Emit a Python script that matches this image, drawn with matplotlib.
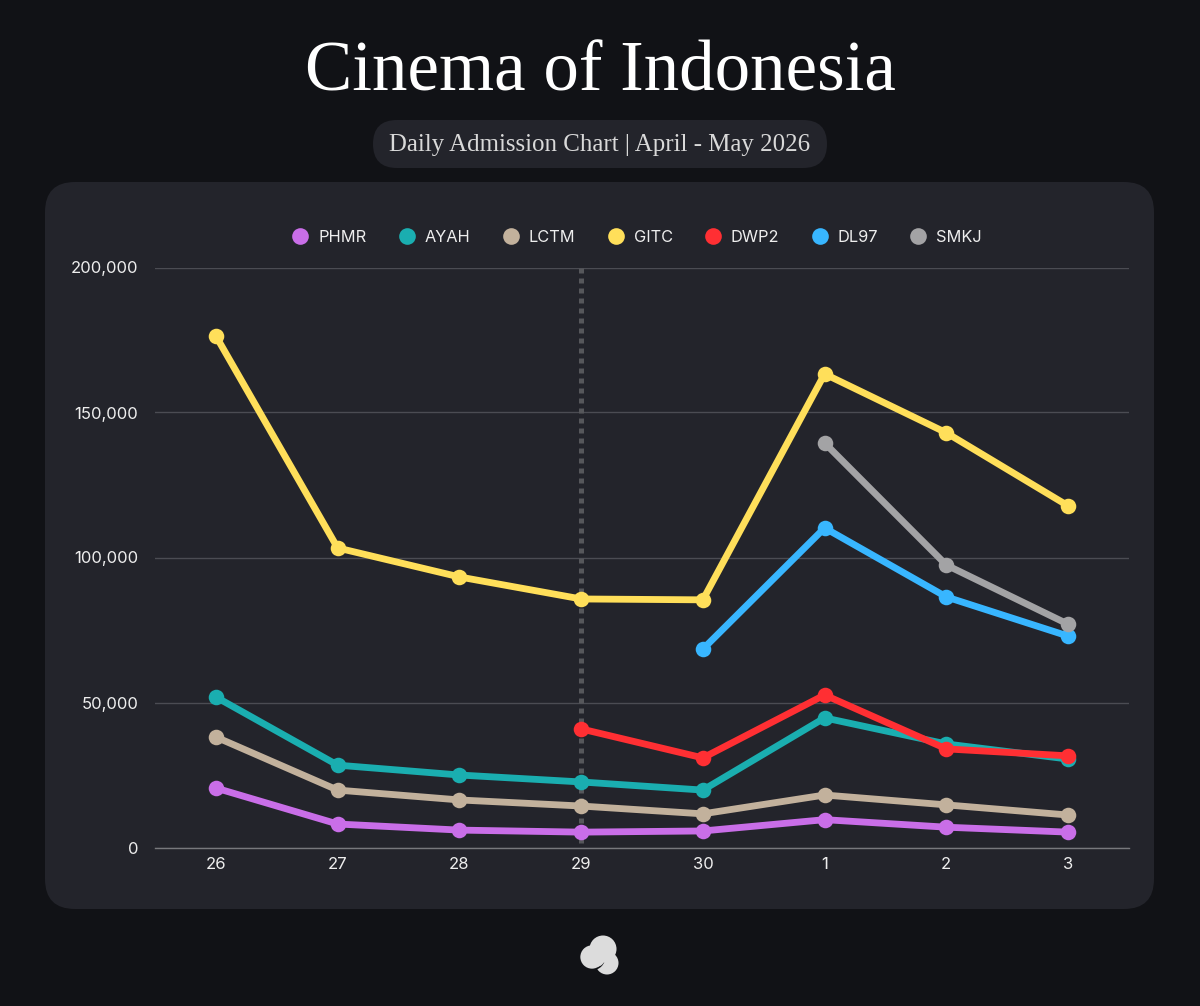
import matplotlib
matplotlib.use("Agg")
import matplotlib.pyplot as plt
from matplotlib.lines import Line2D
from matplotlib.patches import FancyBboxPatch, Circle

nan = float("nan")

days = ["26", "27", "28", "29", "30", "1", "2", "3"]
phmr = [20500, 8100, 6000, 5300, 5700, 9600, 7000, 5300]
ayah = [51900, 28400, 25000, 22600, 19800, 44700, 35700, 30500]
lctm = [38100, 19800, 16400, 14300, 11600, 18100, 14700, 11200]
gitc = [176400, 103300, 93300, 85700, 85400, 163300, 143000, 117800]
dwp2 = [nan, nan, nan, 40900, 30900, 52600, 34000, 31600]
dl97 = [nan, nan, nan, nan, 68400, 110200, 86400, 72900]
smkj = [nan, nan, nan, nan, nan, 139500, 97400, 77000]

names = ["PHMR", "AYAH", "LCTM", "GITC", "DWP2", "DL97", "SMKJ"]
series = [phmr, ayah, lctm, gitc, dwp2, dl97, smkj]
colors = ["#c96ee8", "#1aaeb0", "#c2b19c", "#ffdf5a", "#ff2f33", "#38b6ff", "#a3a3a5"]

yticks = [0, 50000, 100000, 150000, 200000]

BG = "#111216"
CARD = "#23242b"
W, H = 1200, 1006

plt.rcParams["font.family"] = ["Inter", "DejaVu Sans"]

fig = plt.figure(figsize=(W / 100, H / 100), dpi=100, facecolor=BG)

# backdrop in pixel coordinates: card, pill, logo
bg = fig.add_axes([0, 0, 1, 1], zorder=0)
bg.set_xlim(0, W)
bg.set_ylim(H, 0)
bg.axis("off")
bg.add_patch(FancyBboxPatch((45 + 30, 182 + 30), 1109 - 60, 727 - 60,
                            boxstyle="round,pad=30,rounding_size=30", fc=CARD, ec="none"))
bg.add_patch(FancyBboxPatch((373 + 24, 120 + 24), 454 - 48, 48 - 48,
                            boxstyle="round,pad=24,rounding_size=24", fc=CARD, ec="none"))
bg.add_patch(Circle((607, 963), 11.5, fc="#dcdcdc", ec="none"))
bg.add_patch(Circle((592, 957), 12.5, fc="#dcdcdc", ec=BG, lw=1.2))
bg.add_patch(Circle((603, 949), 13.5, fc="#dcdcdc", ec="none"))
bg.add_patch(Circle((596, 958), 9, fc="#dcdcdc", ec="none"))

bg.text(600, 73, "Cinema of Indonesia", color="white", fontsize=51,
        family="Liberation Serif", ha="center", va="center")
bg.text(600, 145, "Daily Admission Chart | April - May 2026", color="#d9d9d9", fontsize=17.9,
        family="Liberation Serif", ha="center", va="center")

# plot area
left, right, top, bottom = 155, 1129, 267.5, 847.5
ax = fig.add_axes([left / W, 1 - bottom / H, (right - left) / W, (bottom - top) / H], zorder=1)
ax.patch.set_alpha(0)
x = list(range(len(days)))

ax.set_xlim(-0.5, 7.5)
ax.set_ylim(0, 200000)
ax.set_xticks(x, days)
ax.set_yticks(yticks, [f"{v:,}" for v in yticks])
ax.tick_params(length=0, labelsize=12, labelcolor="#eeeeee")
ax.tick_params(axis="x", pad=7)
ax.tick_params(axis="y", pad=12)
ax.grid(axis="y", color="#4b4c53", lw=1)
ax.set_axisbelow(True)
for side in ["top", "right", "left"]:
    ax.spines[side].set_visible(False)
ax.spines["bottom"].set_color("#77787c")
ax.spines["bottom"].set_linewidth(1)

# dotted guide on the 29th
ax.axvline(3, ymin=0.007, ymax=1, color="#56575b", lw=3.6, dashes=(1.0, 1.0), zorder=2)

for vals, c, name in zip(series, colors, names):
    ax.plot(x, vals, color=c, lw=4.9, marker="o", ms=11.2, mec=c, mew=0, label=name, zorder=3,
            clip_on=False)

handles = [Line2D([], [], ls="", marker="o", ms=12, mfc=c, mec="none") for c in colors]
fig.legend(handles, names, loc="center", bbox_to_anchor=(633 / W, 1 - 237 / H), ncols=7,
           frameon=False, labelcolor="#eeeeee", fontsize=11.8, handletextpad=0.1,
           columnspacing=1.45, borderpad=0)

fig.savefig("out.png", dpi=100, facecolor=BG)
